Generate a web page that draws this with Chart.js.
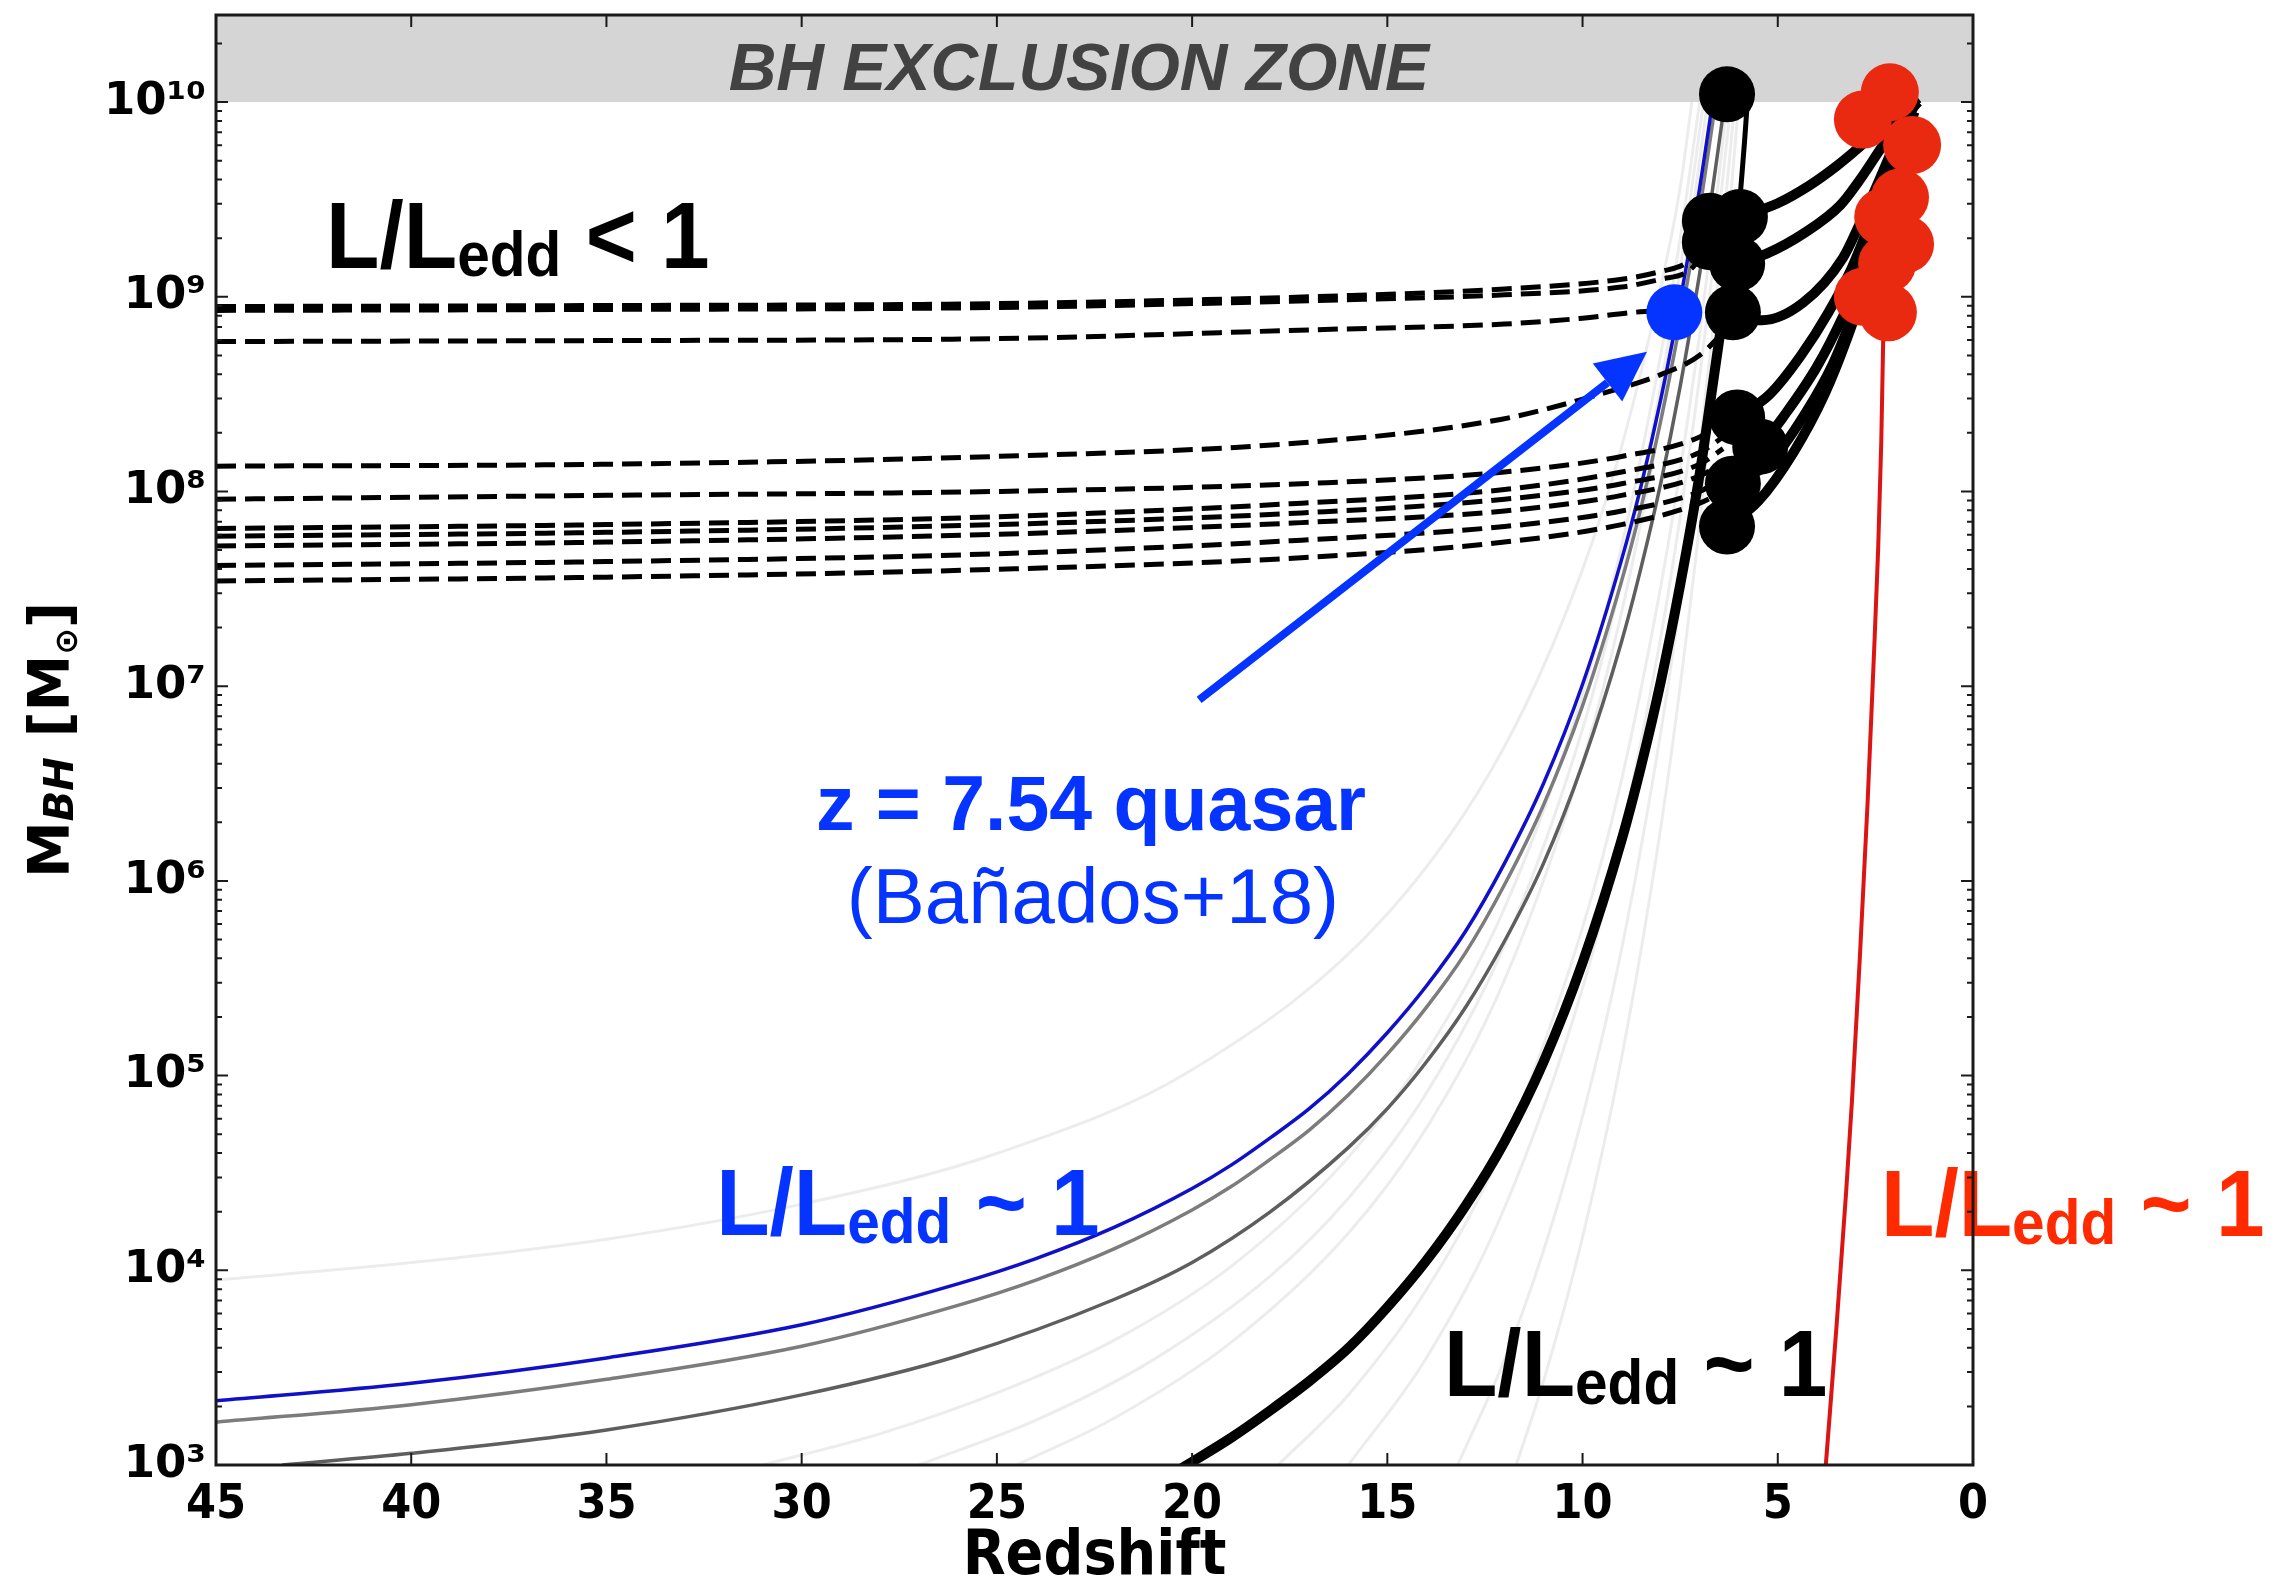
<!DOCTYPE html>
<html>
<head>
<meta charset="utf-8">
<script src="https://cdn.jsdelivr.net/npm/chart.js@4.4.1/dist/chart.umd.min.js"></script>
<style>
  html, body { margin: 0; padding: 0; background: #fff; }
  canvas { display: block; }
</style>
</head>
<body>
<canvas id="bhGrowthChart" width="2285" height="1578" style="width:2285px;height:1578px"></canvas>
<script>
// values: redshift z and log10(M_BH / Msun)
const yTickExps = [3, 4, 5, 6, 7, 8, 9, 10];
const exclusionLogM = 10;

// Eddington tracks
const blueZ = [45, 40, 35, 30, 26, 24, 22, 20, 19, 18, 17, 16, 15, 14, 13, 12, 11, 10, 9, 8.5, 8, 7.5, 7, 6.7, 6.55];
const blueLogM = [3.33, 3.42, 3.55, 3.72, 3.93, 4.06, 4.22, 4.42, 4.54, 4.68, 4.83, 5.01, 5.22, 5.46, 5.74, 6.09, 6.5, 7.01, 7.65, 8.03, 8.47, 8.98, 9.56, 9.96, 10.17];
const grey1LogM = [3.22, 3.31, 3.44, 3.61, 3.82, 3.95, 4.11, 4.31, 4.43, 4.57, 4.72, 4.9, 5.11, 5.35, 5.63, 5.98, 6.39, 6.9, 7.54, 7.92, 8.36, 8.87, 9.45, 9.85, 10.06];
const grey2Z = [43.3, 40, 35, 30, 26, 22, 20, 18, 16, 15, 14, 13, 12, 11, 10, 9, 8.5, 8, 7.5, 7, 6.7, 6.4];
const grey2LogM = [3.0, 3.06, 3.18, 3.36, 3.56, 3.85, 4.04, 4.3, 4.63, 4.83, 5.07, 5.35, 5.69, 6.09, 6.6, 7.23, 7.61, 8.04, 8.54, 9.12, 9.51, 9.94];
const thickZ = [20.3, 19, 18, 17, 16, 15, 14, 13, 12, 11, 10, 9, 8.5, 8, 7.5, 7, 6.7, 6.45];
const thickLogM = [2.98, 3.14, 3.28, 3.43, 3.6, 3.81, 4.05, 4.33, 4.66, 5.07, 5.58, 6.21, 6.59, 7.02, 7.52, 8.09, 8.5, 8.85];
const thinZ = [6.05, 5.95, 5.85, 5.78];
const thinLogM = [9.3, 9.55, 9.8, 10.0];
const redZ = [3.77, 3.5, 3.25, 3.1, 2.9, 2.7, 2.55, 2.43, 2.35, 2.3, 2.26];
const redLogM = [3.0, 3.7, 4.4, 4.87, 5.6, 6.4, 7.1, 7.7, 8.25, 8.78, 9.1];

// faint seed tracks
const faintTracks = [
  { z: [45, 40, 35, 30, 25, 20, 15, 12, 10, 9, 8, 7.5, 7.2], m: [3.95, 4.04, 4.16, 4.34, 4.6, 5.03, 5.83, 6.69, 7.6, 8.23, 9.05, 9.56, 10.0] },
  { z: [31, 28, 25, 22, 19, 16, 14, 12, 10, 9, 8, 7.5, 7.0], m: [3.0, 3.16, 3.37, 3.64, 4.02, 4.58, 5.12, 5.86, 6.96, 7.72, 8.7, 9.3, 10.0] },
  { z: [27, 24, 21, 18, 16, 14, 12, 10, 9, 8, 7.5, 6.9], m: [3.0, 3.23, 3.54, 3.97, 4.37, 4.91, 5.67, 6.78, 7.55, 8.54, 9.14, 10.0] },
  { z: [24.5, 22, 19, 16, 14, 12, 10, 9, 8, 7.5, 6.8], m: [3.0, 3.24, 3.63, 4.19, 4.73, 5.49, 6.61, 7.38, 8.37, 8.98, 10.0] },
  { z: [17.8, 16, 14, 12, 10, 9, 8, 7.5, 7, 6.6, 6.3], m: [3.0, 3.36, 3.9, 4.65, 5.76, 6.52, 7.51, 8.11, 8.81, 9.45, 10.0] },
  { z: [16, 14, 12, 10, 9, 8, 7.5, 7, 6.6, 6.2], m: [3.0, 3.55, 4.32, 5.45, 6.24, 7.25, 7.87, 8.59, 9.25, 10.0] },
  { z: [13.2, 12, 11, 10, 9, 8, 7.5, 7, 6.6, 6.1], m: [3.0, 3.54, 4.1, 4.79, 5.65, 6.76, 7.44, 8.22, 8.95, 10.0] },
  { z: [11.7, 11, 10, 9, 8, 7.5, 7, 6.5, 6.0], m: [3.0, 3.43, 4.17, 5.09, 6.27, 7.0, 7.84, 8.83, 10.0] }
];

// sub-Eddington backward tracks (dashed)
const dashedTracks = [
  { z: [45, 35, 25, 17, 12, 9, 8, 7.3, 6.8], m: [8.95, 8.955, 8.965, 9.0, 9.04, 9.09, 9.13, 9.18, 9.3] },
  { z: [45, 35, 25, 17, 12, 9, 8, 7.3, 6.8], m: [8.93, 8.935, 8.945, 8.98, 9.01, 9.05, 9.09, 9.13, 9.24] },
  { z: [45, 35, 25, 17, 12, 10, 8.7, 7.7], m: [8.77, 8.775, 8.785, 8.83, 8.86, 8.89, 8.92, 8.93] },
  { z: [45, 35, 25, 17.2, 12.1, 9.55, 8, 7, 6.2], m: [8.13, 8.14, 8.18, 8.25, 8.37, 8.5, 8.6, 8.7, 8.86] },
  { z: [45, 35, 25, 17.2, 12, 9, 7, 6.4], m: [7.96, 7.98, 8.0, 8.04, 8.1, 8.18, 8.28, 8.36] },
  { z: [45, 35, 25, 17.2, 12, 9, 7, 6.4], m: [7.81, 7.83, 7.87, 7.94, 8.01, 8.1, 8.2, 8.28] },
  { z: [45, 35, 25, 17.2, 12, 9, 7, 6.4], m: [7.77, 7.79, 7.83, 7.89, 7.96, 8.04, 8.14, 8.22] },
  { z: [45, 35, 25, 17.2, 12, 9, 7, 6.4], m: [7.72, 7.74, 7.78, 7.84, 7.9, 7.98, 8.08, 8.15] },
  { z: [45, 35, 25, 17.2, 12, 9, 7, 6.4], m: [7.62, 7.64, 7.68, 7.75, 7.82, 7.9, 8.0, 8.07] },
  { z: [45, 35, 25, 17.2, 12, 9, 7, 6.4], m: [7.54, 7.56, 7.6, 7.66, 7.74, 7.83, 7.94, 8.0] }
];

// forward growth from the z~6 quasars to z~2
const forwardTracks = [
  { z: [5.97, 5.0, 4.2, 3.5, 2.9, 2.3, 1.8, 1.4], m: [9.41, 9.48, 9.57, 9.67, 9.77, 9.88, 9.96, 10.02] },
  { z: [6.04, 5.3, 4.3, 3.4, 2.9, 2.4, 1.9, 1.4], m: [9.17, 9.22, 9.33, 9.47, 9.6, 9.75, 9.9, 10.0] },
  { z: [6.15, 5.4, 4.35, 3.33, 2.89, 2.4, 1.9, 1.45], m: [8.88, 8.88, 8.97, 9.2, 9.38, 9.6, 9.83, 10.0] },
  { z: [5.45, 4.87, 4.0, 3.33, 2.97, 2.5, 2.0, 1.5], m: [8.23, 8.38, 8.64, 8.9, 9.07, 9.35, 9.65, 9.95] },
  { z: [6.04, 5.2, 4.4, 3.7, 3.1, 2.6, 2.1, 1.6], m: [8.38, 8.5, 8.7, 8.92, 9.15, 9.4, 9.68, 9.95] },
  { z: [6.15, 5.2, 4.3, 3.6, 3.0, 2.5, 2.1, 1.7], m: [8.04, 8.15, 8.4, 8.65, 8.95, 9.25, 9.55, 9.9] },
  { z: [6.3, 5.5, 4.6, 3.8, 3.2, 2.7, 2.3, 1.9], m: [7.82, 7.95, 8.2, 8.5, 8.8, 9.1, 9.4, 9.75] }
];

// observed objects
const blackDotZ = [6.30, 6.74, 5.97, 6.74, 6.04, 6.15, 6.04, 5.45, 6.15, 6.30];
const blackDotLogM = [10.04, 9.39, 9.41, 9.28, 9.17, 8.92, 8.38, 8.23, 8.04, 7.82];
const redDotZ = [2.13, 2.82, 1.56, 1.87, 2.3, 1.74, 2.2, 2.82, 2.18];
const redDotLogM = [10.05, 9.91, 9.78, 9.51, 9.41, 9.27, 9.17, 9.0, 8.92];
const quasarZ = [7.65];
const quasarLogM = [8.92];

const BLUE = '#0533ff';
const FONT = '"DejaVu Sans", sans-serif';
const HELV = '"Liberation Sans", Arial, sans-serif';
const SUPS = '⁰¹²³⁴⁵⁶⁷⁸⁹';

function toPoints(zs, ms) {
  return zs.map((z, i) => ({ x: z, y: Math.pow(10, ms[i]) }));
}

function track(zs, ms, color, width, order, extra) {
  return Object.assign({
    data: toPoints(zs, ms),
    showLine: true,
    pointRadius: 0,
    borderColor: color,
    borderWidth: width,
    cubicInterpolationMode: 'monotone',
    fill: false,
    order: order
  }, extra || {});
}

function dots(zs, ms, color, radius, order) {
  return {
    data: toPoints(zs, ms),
    showLine: false,
    pointRadius: radius,
    pointBackgroundColor: color,
    pointBorderWidth: 0,
    order: order
  };
}

const datasets = [];
faintTracks.forEach(t => datasets.push(track(t.z, t.m, 'rgba(0,0,0,0.075)', 3, 20)));
datasets.push(track(grey2Z, grey2LogM, '#5e5e5e', 3.5, 19));
datasets.push(track(blueZ, grey1LogM, '#7c7c7c', 3.5, 18));
datasets.push(track(blueZ, blueLogM, '#1010c8', 3.5, 17));
datasets.push(track(thickZ, thickLogM, '#000', 10, 16));
datasets.push(track(thinZ, thinLogM, '#000', 5, 16));
dashedTracks.forEach(t => datasets.push(track(t.z, t.m, '#000', 5, 15, { borderDash: [20, 9] })));
forwardTracks.forEach(t => datasets.push(track(t.z, t.m, '#000', 10, 14)));
datasets.push(track(redZ, redLogM, '#dc1414', 4, 13));
datasets.push(dots(blackDotZ, blackDotLogM, '#000', 28, 3));
datasets.push(dots(redDotZ, redDotLogM, '#ea2a10', 29, 2));
datasets.push(dots(quasarZ, quasarLogM, BLUE, 28, 1));

function sup(n) {
  return String(n).split('').map(d => SUPS[+d]).join('');
}

function drawLedd(ctx, px, py, color, tail) {
  ctx.save();
  ctx.translate(px, py);
  ctx.scale(0.93, 1);
  ctx.fillStyle = color;
  ctx.textAlign = 'left';
  ctx.textBaseline = 'alphabetic';
  ctx.font = 'bold 94px ' + HELV;
  ctx.fillText('L/L', 0, 0);
  let w = ctx.measureText('L/L').width;
  ctx.font = 'bold 63px ' + HELV;
  ctx.fillText('edd', w, 8);
  w += ctx.measureText('edd').width;
  ctx.font = 'bold 94px ' + HELV;
  ctx.fillText(tail, w, 0);
  ctx.restore();
}

function noPadding(scale) {
  scale.paddingTop = 0;
  scale.paddingBottom = 0;
  scale.paddingLeft = 0;
  scale.paddingRight = 0;
}

const decor = {
  id: 'decor',
  beforeDatasetsDraw(chart) {
    const { ctx, chartArea: a, scales: { x, y } } = chart;
    const yb = y.getPixelForValue(Math.pow(10, exclusionLogM));
    ctx.save();
    ctx.fillStyle = '#d5d5d5';
    ctx.fillRect(a.left, a.top, a.right - a.left, yb - a.top);
    ctx.fillStyle = '#424242';
    ctx.font = 'italic bold 66px ' + HELV;
    ctx.textAlign = 'center';
    ctx.textBaseline = 'alphabetic';
    ctx.fillText('BH EXCLUSION ZONE', x.getPixelForValue(22.9), y.getPixelForValue(Math.pow(10, 10.062)));
    ctx.restore();
  },
  afterDatasetsDraw(chart) {
    const { ctx, scales: { x, y } } = chart;
    const px = z => x.getPixelForValue(z);
    const py = lm => y.getPixelForValue(Math.pow(10, lm));

    // arrow to the z = 7.54 quasar
    const x0 = px(19.82), y0 = py(6.93), x1 = px(8.35), y1 = py(8.717);
    const ang = Math.atan2(y1 - y0, x1 - x0);
    const head = 50, half = 24;
    ctx.save();
    ctx.strokeStyle = BLUE;
    ctx.fillStyle = BLUE;
    ctx.lineWidth = 8;
    ctx.beginPath();
    ctx.moveTo(x0, y0);
    ctx.lineTo(x1 - head * Math.cos(ang), y1 - head * Math.sin(ang));
    ctx.stroke();
    ctx.beginPath();
    ctx.moveTo(x1, y1);
    ctx.lineTo(x1 - head * Math.cos(ang) + half * Math.sin(ang), y1 - head * Math.sin(ang) - half * Math.cos(ang));
    ctx.lineTo(x1 - head * Math.cos(ang) - half * Math.sin(ang), y1 - head * Math.sin(ang) + half * Math.cos(ang));
    ctx.closePath();
    ctx.fill();

    ctx.textAlign = 'center';
    ctx.textBaseline = 'alphabetic';
    ctx.font = 'bold 77px ' + HELV;
    ctx.fillText('z = 7.54 quasar', px(22.59), py(6.261));
    ctx.font = '78px ' + HELV;
    ctx.fillText('(Bañados+18)', px(22.54), py(5.784));
    ctx.restore();

    drawLedd(ctx, px(42.18), py(9.148), '#000', ' < 1');
    drawLedd(ctx, px(32.19), py(4.181), BLUE, ' ~ 1');
    drawLedd(ctx, px(13.55), py(3.354), '#000', ' ~ 1');
    drawLedd(ctx, px(2.356), py(4.176), '#ff2a00', ' ~ 1');
  },
  afterDraw(chart) {
    const { ctx, chartArea: a, scales: { x, y } } = chart;
    ctx.save();
    ctx.strokeStyle = '#1a1a1a';
    ctx.lineWidth = 3;
    ctx.strokeRect(a.left, a.top, a.right - a.left, a.bottom - a.top);

    ctx.lineWidth = 2;
    ctx.beginPath();
    x.ticks.forEach(t => {
      const p = x.getPixelForValue(t.value);
      ctx.moveTo(p, a.bottom); ctx.lineTo(p, a.bottom - 12);
      ctx.moveTo(p, a.top); ctx.lineTo(p, a.top + 12);
    });
    y.ticks.forEach(t => {
      const p = y.getPixelForValue(t.value);
      ctx.moveTo(a.left, p); ctx.lineTo(a.left + 12, p);
      ctx.moveTo(a.right, p); ctx.lineTo(a.right - 12, p);
    });
    for (let e = 3; e <= 10; e++) {
      for (let k = 2; k <= 9; k++) {
        const v = k * Math.pow(10, e);
        if (v > y.max) continue;
        const p = y.getPixelForValue(v);
        ctx.moveTo(a.left, p); ctx.lineTo(a.left + 6, p);
        ctx.moveTo(a.right, p); ctx.lineTo(a.right - 6, p);
      }
    }
    ctx.stroke();

    // y axis title: M_BH [M_sun]
    const parts = [
      { t: 'M', f: 'bold 57px ' + FONT, dy: 0 },
      { t: 'BH', f: 'italic bold 40px ' + FONT, dy: 4 },
      { t: ' [M', f: 'bold 57px ' + FONT, dy: 0 },
      { t: '⊙', f: 'bold 32px ' + FONT, dy: 8 },
      { t: ']', f: 'bold 57px ' + FONT, dy: 0 }
    ];
    let total = 0;
    parts.forEach(p => { ctx.font = p.f; p.w = ctx.measureText(p.t).width; total += p.w; });
    ctx.translate(48, (a.top + a.bottom) / 2);
    ctx.rotate(-Math.PI / 2);
    ctx.fillStyle = '#000';
    ctx.textAlign = 'left';
    ctx.textBaseline = 'alphabetic';
    let u = -total / 2;
    parts.forEach(p => {
      ctx.font = p.f;
      ctx.fillText(p.t, u, 21 + p.dy);
      u += p.w;
    });
    ctx.restore();
  }
};

new Chart(document.getElementById('bhGrowthChart'), {
  type: 'scatter',
  data: { datasets: datasets },
  options: {
    responsive: false,
    animation: false,
    devicePixelRatio: 1,
    layout: { autoPadding: false, padding: { top: 15, right: 312, bottom: 0, left: 0 } },
    plugins: { legend: { display: false }, tooltip: { enabled: false } },
    scales: {
      x: {
        type: 'linear',
        reverse: true,
        min: 0,
        max: 45,
        grid: { display: false, drawTicks: false },
        border: { display: false },
        ticks: {
          stepSize: 5,
          color: '#000',
          padding: 12,
          maxRotation: 0,
          font: { family: '"DejaVu Sans Condensed", "DejaVu Sans", sans-serif', weight: 'bold', size: 48 }
        },
        title: {
          display: true,
          text: 'Redshift',
          color: '#000',
          font: { family: '"DejaVu Sans Condensed", "DejaVu Sans", sans-serif', weight: 'bold', size: 62, lineHeight: 0.6 },
          padding: { top: 0, bottom: 2 }
        },
        afterFit(scale) { scale.height = 113; noPadding(scale); }
      },
      y: {
        type: 'logarithmic',
        min: 1e3,
        max: 2.8e10,
        grid: { display: false, drawTicks: false },
        border: { display: false },
        ticks: {
          color: '#000',
          padding: 10,
          font: { family: FONT, weight: 'bold', size: 45 },
          callback: v => '10' + sup(Math.round(Math.log10(v)))
        },
        afterBuildTicks(scale) {
          scale.ticks = yTickExps.map(e => ({ value: Math.pow(10, e) }));
        },
        afterFit(scale) { scale.width = 216; noPadding(scale); }
      }
    }
  },
  plugins: [decor]
});
</script>
</body>
</html>
